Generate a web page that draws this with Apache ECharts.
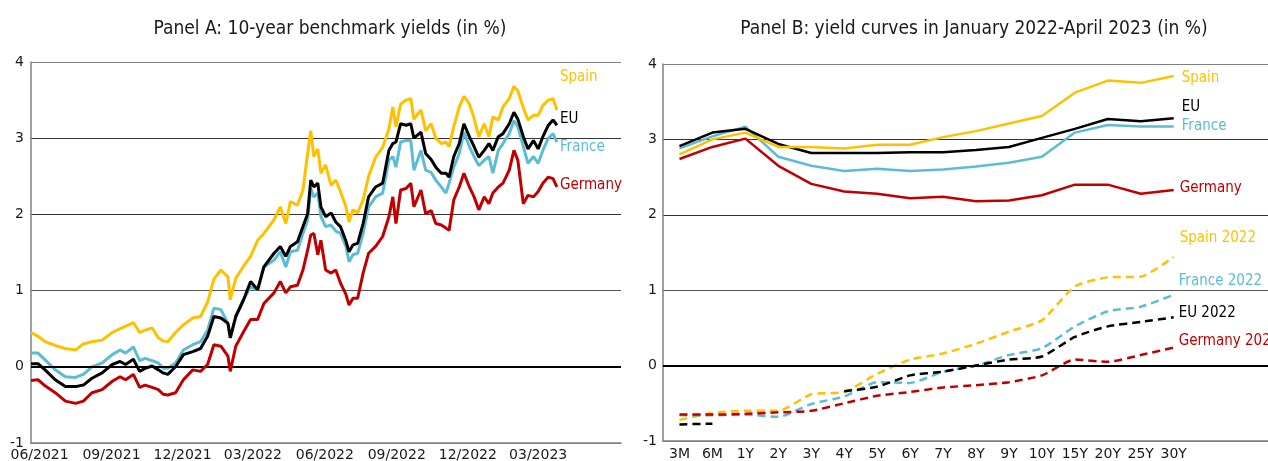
<!DOCTYPE html>
<html><head><meta charset="utf-8">
<script src="https://cdn.jsdelivr.net/npm/echarts@6/dist/echarts.min.js"></script>
<style>html,body{margin:0;padding:0;background:#fff}#c{width:1268px;height:461px}</style>
</head><body><div id="c"></div><script>
// ---------- Panel A: 10-year benchmark yields ----------
const datesA = ['2021-06-25','2021-07-04','2021-07-13','2021-07-26','2021-08-08','2021-08-21','2021-08-31','2021-09-11','2021-09-24','2021-10-07',
'2021-10-17','2021-10-24','2021-11-03','2021-11-11','2021-11-18','2021-11-27','2021-12-05','2021-12-11','2021-12-17','2021-12-27',
'2022-01-06','2022-01-18','2022-01-28','2022-02-06','2022-02-14','2022-02-23','2022-03-04','2022-03-07','2022-03-14','2022-03-24',
'2022-04-02','2022-04-11','2022-04-19','2022-05-02','2022-05-10','2022-05-17','2022-05-23','2022-06-01','2022-06-08','2022-06-14',
'2022-06-18','2022-06-22','2022-06-27','2022-07-01','2022-07-07','2022-07-14','2022-07-20','2022-07-26','2022-08-02','2022-08-06',
'2022-08-11','2022-08-17','2022-08-24','2022-08-31','2022-09-09','2022-09-18','2022-09-26','2022-10-01','2022-10-05','2022-10-11',
'2022-10-18','2022-10-24','2022-10-28','2022-11-06','2022-11-12','2022-11-19','2022-11-25','2022-12-02','2022-12-08','2022-12-12',
'2022-12-18','2022-12-25','2022-12-31','2023-01-07','2023-01-13','2023-01-19','2023-01-26','2023-02-01','2023-02-06','2023-02-13',
'2023-02-19','2023-02-27','2023-03-05','2023-03-10','2023-03-17','2023-03-23','2023-03-30','2023-04-05','2023-04-11','2023-04-18',
'2023-04-24','2023-04-29'];

const spainA = [0.45,0.40,0.33,0.28,0.24,0.22,0.30,0.33,0.35,0.45,
0.50,0.53,0.58,0.45,0.48,0.51,0.38,0.34,0.33,0.45,
0.55,0.64,0.66,0.85,1.15,1.27,1.18,0.88,1.16,1.32,
1.45,1.66,1.75,1.93,2.10,1.88,2.17,2.12,2.32,2.80,
3.10,2.76,2.86,2.54,2.65,2.38,2.45,2.30,2.10,1.90,
2.06,2.02,2.19,2.50,2.75,2.88,3.12,3.41,3.15,3.45,
3.50,3.52,3.25,3.37,3.10,3.19,3.00,2.93,2.95,2.89,
3.15,3.41,3.55,3.45,3.26,3.02,3.19,3.02,3.28,3.24,
3.41,3.52,3.68,3.62,3.40,3.24,3.30,3.30,3.43,3.50,
3.52,3.37];

const euA = [0.04,0.04,-0.04,-0.17,-0.26,-0.26,-0.24,-0.15,-0.08,0.03,
0.07,0.03,0.10,-0.06,-0.02,0.01,-0.04,-0.08,-0.10,0.00,
0.16,0.20,0.24,0.40,0.66,0.64,0.57,0.38,0.66,0.88,
1.12,1.01,1.31,1.49,1.58,1.45,1.58,1.64,1.84,2.01,
2.45,2.36,2.41,2.10,1.97,2.02,1.90,1.84,1.65,1.51,
1.60,1.62,1.88,2.23,2.36,2.41,2.84,2.93,2.95,3.19,
3.17,3.19,3.00,3.08,2.80,2.72,2.62,2.54,2.54,2.49,
2.76,2.93,3.19,3.02,2.89,2.75,2.84,2.93,2.84,3.02,
3.06,3.19,3.34,3.25,3.02,2.86,2.97,2.86,3.02,3.17,
3.24,3.17];

const franceA = [0.18,0.18,0.09,-0.04,-0.13,-0.14,-0.10,0.00,0.05,0.16,
0.22,0.18,0.26,0.08,0.11,0.08,0.05,-0.02,-0.02,0.05,
0.22,0.29,0.33,0.48,0.77,0.75,0.57,0.38,0.66,0.88,
1.05,1.01,1.31,1.40,1.51,1.31,1.51,1.53,1.75,1.93,
2.34,2.23,2.28,1.97,1.84,1.86,1.78,1.75,1.58,1.38,
1.47,1.49,1.75,2.10,2.23,2.28,2.71,2.76,2.62,2.95,
2.97,2.97,2.58,2.84,2.58,2.55,2.45,2.36,2.28,2.41,
2.62,2.80,3.08,2.89,2.76,2.64,2.71,2.76,2.54,2.84,
2.93,3.06,3.23,3.15,2.89,2.67,2.76,2.67,2.84,3.00,
3.06,2.95];

const germanyA = [-0.18,-0.17,-0.25,-0.34,-0.45,-0.48,-0.45,-0.34,-0.30,-0.19,
-0.13,-0.17,-0.10,-0.27,-0.24,-0.27,-0.30,-0.36,-0.37,-0.34,
-0.17,-0.04,-0.06,0.03,0.29,0.27,0.14,-0.06,0.27,0.46,
0.62,0.62,0.83,0.97,1.12,0.97,1.05,1.07,1.27,1.53,
1.73,1.75,1.47,1.66,1.27,1.23,1.27,1.10,0.95,0.81,
0.90,0.90,1.23,1.49,1.58,1.71,1.97,2.23,1.88,2.32,
2.34,2.41,2.10,2.32,2.01,2.05,1.88,1.86,1.82,1.79,
2.19,2.36,2.54,2.36,2.23,2.06,2.23,2.14,2.28,2.36,
2.41,2.58,2.84,2.71,2.14,2.25,2.23,2.30,2.41,2.49,
2.47,2.36];

const tickMonthsA = ['2021-06-01','2021-09-01','2021-12-01','2022-03-01','2022-06-01','2022-09-01','2022-12-01','2023-03-01'];
const tickLabelsA = ['06/2021','09/2021','12/2021','03/2022','06/2022','09/2022','12/2022','03/2023'];
const axisStartA = '2021-06-25';
const axisEndA = '2023-07-20';

// ---------- Panel B: yield curves ----------
const maturities = ['3M','6M','1Y','2Y','3Y','4Y','5Y','6Y','7Y','8Y','9Y','10Y','15Y','20Y','25Y','30Y'];
const spainB   = [2.80,3.00,3.09,2.90,2.90,2.88,2.93,2.93,3.03,3.11,3.21,3.31,3.62,3.78,3.75,3.84];
const euB      = [2.91,3.09,3.14,2.94,2.82,2.82,2.82,2.83,2.83,2.86,2.90,3.02,3.14,3.27,3.24,3.28];
const franceB  = [2.88,3.04,3.17,2.77,2.65,2.58,2.61,2.58,2.60,2.64,2.69,2.77,3.09,3.19,3.17,3.17];
const germanyB = [2.74,2.90,3.01,2.65,2.41,2.31,2.28,2.22,2.24,2.18,2.19,2.26,2.40,2.40,2.28,2.33];
const spain22   = [-0.72,-0.63,-0.60,-0.60,-0.38,-0.35,-0.11,0.08,0.16,0.29,0.45,0.60,1.05,1.17,1.18,1.44];
const france22  = [-0.66,-0.66,-0.65,-0.68,-0.51,-0.41,-0.22,-0.23,-0.08,0.00,0.14,0.23,0.52,0.72,0.78,0.94];
const eu22      = [-0.78,-0.77,null,null,null,-0.34,-0.28,-0.13,-0.08,0.00,0.08,0.12,0.38,0.52,0.58,0.64];
const germany22 = [-0.65,-0.65,-0.64,-0.62,-0.60,-0.50,-0.40,-0.35,-0.29,-0.26,-0.22,-0.13,0.08,0.05,0.14,0.24];

const yTicks = {min:-1, max:4, interval:1};

// ---------- styling ----------
const C = {spain:'#FFC000', eu:'#000000', france:'#5BBCD3', germany:'#C00000'};
const LABEL_FONT = '"Liberation Sans Narrow","DejaVu Sans Condensed",Roboto,sans-serif';
const TICK_FONT = '"DejaVu Sans",Verdana,sans-serif';
const DAY = 86400000;
const LABEL_SHIFT = 35 * DAY;
const labelValsA = tickMonthsA.map(d => Date.parse(d) + LABEL_SHIFT);

function endLabel(name, color, off, dist) {
  return {show:true, formatter:() => name, color, fontFamily:LABEL_FONT, fontSize:15, offset:off, distance:dist};
}
function lineA(name, data, color, off, z) {
  return {type:'line', name, xAxisIndex:0, yAxisIndex:0, z,
    data: datesA.map((d,i) => [Date.parse(d), data[i]]),
    symbol:'none', showSymbol:false, lineStyle:{color, width:3}, itemStyle:{color},
    endLabel:endLabel(name, color, off, 3), emphasis:{disabled:true}};
}
function lineB(name, data, color, off, dashed, dist, z) {
  return {type:'line', name, xAxisIndex:1, yAxisIndex:1, z,
    data, symbol:'none', showSymbol:false, connectNulls:false,
    smooth: dashed ? 0.2 : false,
    lineStyle:{color, width:2.5, type: dashed ? [8,5] : 'solid'}, itemStyle:{color},
    endLabel:endLabel(name, color, off, dist), emphasis:{disabled:true}};
}
const zeroLine = {silent:true, symbol:['none','none'], label:{show:false},
  lineStyle:{color:'#000', width:2, type:'solid'}, data:[{yAxis:0}], animation:false};

const yAxisCommon = (margin) => ({type:'value', ...yTicks,
  axisLine:{show:true, lineStyle:{color:'#808080', width:1.5}},
  axisTick:{show:false},
  axisLabel:{color:'#1a1a1a', fontFamily:TICK_FONT, fontSize:14, margin},
  splitLine:{show:true, lineStyle:{color:['#808080','#000','#555','#333','#333','#808080'], width:1}}});

const series = [
  lineA('Spain', spainA, C.spain, [0,-33], 2),
  lineA('France', franceA, C.france, [0,5], 3),
  lineA('EU', euA, C.eu, [0,-6], 4),
  lineA('Germany', germanyA, C.germany, [0,-2], 5),
  lineB('Spain', spainB, C.spain, [0,2], false, 8, 5),
  lineB('EU', euB, C.eu, [0,-11], false, 8, 4),
  lineB('France', franceB, C.france, [0,0], false, 8, 3),
  lineB('Germany', germanyB, C.germany, [0,-2], false, 6, 3),
  lineB('Spain 2022', spain22, C.spain, [0,-19], true, 6, 3),
  lineB('France 2022', france22, C.france, [0,-14], true, 5, 3),
  lineB('EU 2022', eu22, C.eu, [0,-4], true, 5, 3),
  lineB('Germany 2022', germany22, C.germany, [0,-6], true, 5, 3)
];
series[0].markLine = zeroLine;
series[4].markLine = zeroLine;

const option = {
  animation:false,
  backgroundColor:'#fff',
  title:[
    {text:'Panel A: 10-year benchmark yields (in %)', left:325, top:15, textAlign:'center',
     textStyle:{fontFamily:LABEL_FONT, fontSize:19, fontWeight:'normal', color:'#1a1a1a'}},
    {text:'Panel B: yield curves in January 2022-April 2023 (in %)', left:969, top:15, textAlign:'center',
     textStyle:{fontFamily:LABEL_FONT, fontSize:19, fontWeight:'normal', color:'#1a1a1a'}}
  ],
  grid:[
    {left:31, top:62, width:590, bottom:18, containLabel:false, outerBoundsMode:'none'},
    {left:663, top:64, right:-21, bottom:20, containLabel:false, outerBoundsMode:'none'}
  ],
  xAxis:[
    {type:'value', gridIndex:0, min:Date.parse(axisStartA), max:Date.parse(axisEndA),
     axisLine:{show:true, onZero:false, lineStyle:{color:'#808080', width:1.5}},
     axisTick:{show:false}, splitLine:{show:false},
     axisLabel:{show:true, customValues:labelValsA, color:'#1a1a1a', fontFamily:TICK_FONT, fontSize:14, margin:5,
       formatter:(v) => { const i = labelValsA.indexOf(v); return i >= 0 ? tickLabelsA[i] : ''; }}},
    {type:'category', gridIndex:1, data:maturities.concat(['','','']), boundaryGap:true,
     axisLine:{show:true, onZero:false, lineStyle:{color:'#808080', width:1.5}},
     axisTick:{show:false}, splitLine:{show:false},
     axisLabel:{interval:0, color:'#1a1a1a', fontFamily:TICK_FONT, fontSize:14, margin:6}}
  ],
  yAxis:[
    Object.assign(yAxisCommon(7), {gridIndex:0}),
    Object.assign(yAxisCommon(6), {gridIndex:1})
  ],
  series
};
const chart = echarts.init(document.getElementById('c'), null, {renderer:'canvas'});
chart.setOption(option);
</script></body></html>
